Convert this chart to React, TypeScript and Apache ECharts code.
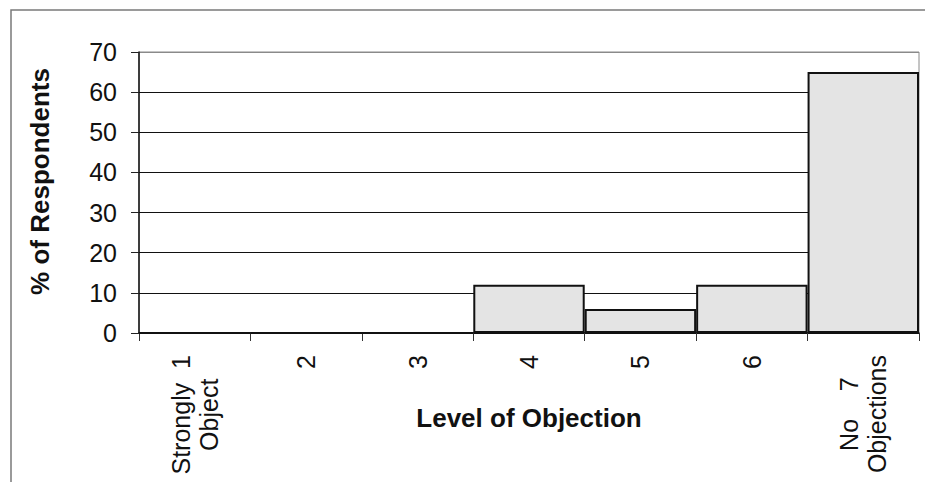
import React, { useEffect, useRef } from "react";
import * as echarts from "echarts";

const categories: string[] = [
  "Strongly  1\nObject",
  "2",
  "3",
  "4",
  "5",
  "6",
  "No    7\nObjections",
];
const respondents: number[] = [0, 0, 0, 12, 6, 12, 65];
const yTicks = { min: 0, max: 70, interval: 10 };
const xTitle = "Level of Objection";
const yTitle = "% of Respondents";

const FONT = "'Liberation Sans', Arial, sans-serif";

export default function App() {
  const ref = useRef<HTMLDivElement>(null);
  useEffect(() => {
    if (!ref.current) return;
    const chart = echarts.init(ref.current, null, { renderer: "svg" });
    chart.setOption({
      animation: false,
      backgroundColor: "#ffffff",
      textStyle: { fontFamily: FONT },
      grid: {
        left: 139,
        right: 6,
        top: 52,
        bottom: 149,
        containLabel: false,
        outerBoundsMode: "none",
        show: true,
        borderColor: "#8a8a8a",
        borderWidth: 1,
        backgroundColor: "transparent",
      },
      graphic: [
        {
          type: "rect",
          shape: { x: 11, y: 10, width: 1000, height: 600 },
          style: { fill: "none", stroke: "#7a7a7a", lineWidth: 1.5 },
          silent: true,
        },
      ],
      xAxis: {
        type: "category",
        data: categories,
        boundaryGap: true,
        name: xTitle,
        nameLocation: "middle",
        nameGap: 72,
        nameMoveOverlap: false,
        nameTextStyle: {
          fontFamily: FONT,
          fontSize: 26,
          fontWeight: "bold",
          color: "#111",
        },
        axisLine: { show: true, lineStyle: { color: "#111", width: 1.5 } },
        axisTick: {
          show: true,
          inside: false,
          length: 8,
          alignWithLabel: false,
          lineStyle: { color: "#333", width: 1 },
        },
        axisLabel: {
          interval: 0,
          rotate: 90,
          margin: 22,
          color: "#111",
          fontFamily: FONT,
          fontSize: 25,
          lineHeight: 28,
          formatter: (v: string) =>
            v
              .split("\n")
              .map((l) => `{c|${l}}`)
              .join("\n"),
          rich: {
            c: {
              align: "center",
              fontFamily: FONT,
              fontSize: 25,
              lineHeight: 28,
              color: "#111",
            },
          },
        },
        splitLine: { show: false },
      },
      yAxis: {
        type: "value",
        min: yTicks.min,
        max: yTicks.max,
        interval: yTicks.interval,
        name: yTitle,
        nameLocation: "middle",
        nameRotate: 90,
        nameGap: 86,
        nameMoveOverlap: false,
        nameTextStyle: {
          fontFamily: FONT,
          fontSize: 26,
          fontWeight: "bold",
          color: "#111",
          padding: [0, 0, 0, 22],
        },
        axisLine: { show: true, lineStyle: { color: "#111", width: 1.5 } },
        axisTick: {
          show: true,
          inside: false,
          length: 8,
          lineStyle: { color: "#222", width: 1 },
        },
        axisLabel: {
          margin: 22,
          color: "#111",
          fontFamily: FONT,
          fontSize: 25,
        },
        splitLine: {
          show: true,
          lineStyle: {
            color: ["#111", "#111", "#111", "#111", "#111", "#111", "#111", "#8a8a8a"],
            width: 1,
          },
        },
      },
      series: [
        {
          type: "bar",
          data: respondents,
          barCategoryGap: "0%",
          itemStyle: {
            color: "#e4e4e4",
            borderColor: "#111",
            borderWidth: 2,
          },
        },
      ],
    });
    return () => chart.dispose();
  }, []);
  return (
    <div
      ref={ref}
      style={{ position: "fixed", left: 0, top: 0, width: 925, height: 482 }}
    />
  );
}
